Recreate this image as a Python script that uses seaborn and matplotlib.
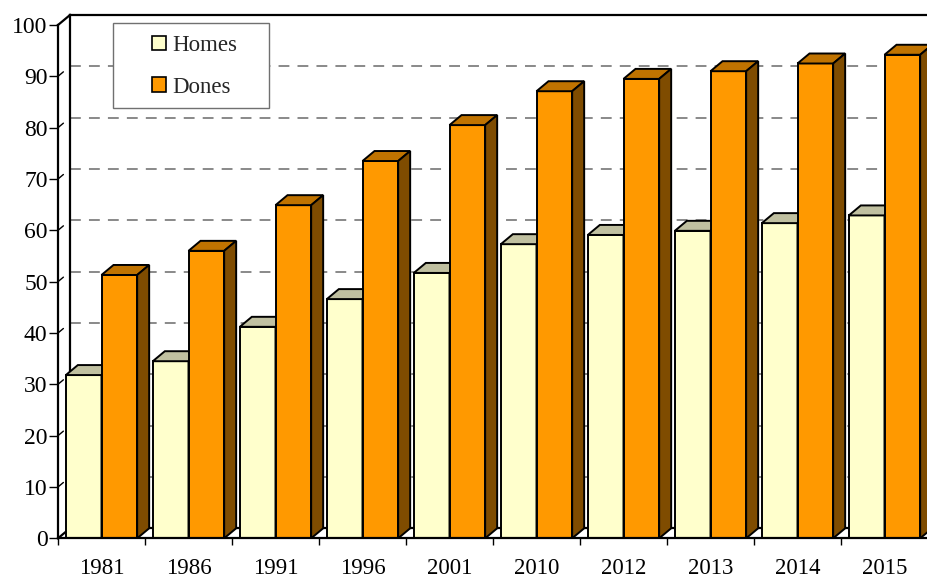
import pandas as pd
import matplotlib
matplotlib.use("Agg")
import matplotlib.pyplot as plt
import seaborn as sns
from matplotlib.patches import Patch, Polygon, Rectangle
from matplotlib.ticker import FixedLocator

# data
years = ['1981', '1986', '1991', '1996', '2001', '2010', '2012', '2013', '2014', '2015']
homes = [31.8, 34.5, 41.2, 46.6, 51.7, 57.3, 59.1, 59.9, 61.4, 62.9]
dones = [51.3, 56.0, 64.9, 73.5, 80.5, 87.1, 89.5, 91.0, 92.5, 94.2]
series = ['Homes', 'Dones']

df = pd.DataFrame({
    'Any': years * 2,
    'Sexe': ['Homes'] * len(years) + ['Dones'] * len(years),
    'Valor': homes + dones,
})

front = {'Homes': '#FFFFCC', 'Dones': '#FF9900'}
top = {'Homes': '#C0C0A0', 'Dones': '#C07300'}
side = {'Homes': '#808066', 'Dones': '#7F4C00'}

sns.set_theme(style="white")
plt.rcParams['font.family'] = ['Liberation Serif', 'DejaVu Serif']

W, H = 927, 577
fig = plt.figure(figsize=(W / 100, H / 100), dpi=100)
ax = fig.add_axes([58 / W, (H - 538.3) / H, 870 / W, 513.3 / H])

sns.barplot(data=df, x='Any', y='Valor', hue='Sexe', hue_order=series,
            palette=front, saturation=1, width=0.82, edgecolor='black',
            linewidth=1.4, legend=False, ax=ax, zorder=3)

ax.set_xlim(-0.5, len(years) - 0.5)
ax.set_ylim(0, 100)

# 3D depth offset (12 px right, 10 px up)
dx = 12 / 87
dy = 10 / 5.133

# bar tops and sides
for k, cont in enumerate(ax.containers):
    name = series[k]
    for bar in cont:
        bar.set_zorder(3 + k)
        x0, w, h = bar.get_x(), bar.get_width(), bar.get_height()
        ax.add_patch(Polygon([(x0, h), (x0 + w, h), (x0 + w + dx, h + dy), (x0 + dx, h + dy)],
                             closed=True, facecolor=top[name], edgecolor='black',
                             linewidth=1.4, zorder=3 + k, clip_on=False))
        ax.add_patch(Polygon([(x0 + w, 0), (x0 + w + dx, dy), (x0 + w + dx, h + dy), (x0 + w, h)],
                             closed=True, facecolor=side[name], edgecolor='black',
                             linewidth=1.4, zorder=3 + k, clip_on=False))

x_left = -0.5
x_right = len(years) - 0.5

# back wall grid
for v in range(10, 100, 10):
    ax.plot([x_left + dx, x_right + dx], [v + dy, v + dy], color='#808080',
            linewidth=1.3, linestyle=(0, (6, 4.5)), zorder=1, clip_on=False)
    ax.plot([x_left, x_left + dx * 0.45], [v, v + dy * 0.45], color='black',
            linewidth=1.0, zorder=2, clip_on=False)

# walls and floor outlines
line_kw = dict(color='black', linewidth=1.6, clip_on=False, solid_capstyle='projecting')
ax.plot([x_left + dx, x_right + dx], [100 + dy, 100 + dy], zorder=2, **line_kw)
ax.plot([x_left + dx, x_left + dx], [dy, 100 + dy], zorder=2, **line_kw)
ax.plot([x_left, x_left + dx], [100, 100 + dy], zorder=2, **line_kw)
ax.plot([x_left, x_left + dx], [0, dy], zorder=2, **line_kw)
ax.plot([x_left + dx, x_right + dx], [dy, dy], zorder=2, **line_kw)
ax.plot([x_left, x_left], [0, 100], zorder=6, **line_kw)
ax.plot([x_left, x_right + dx], [0, 0], zorder=6, **line_kw)

for s in ax.spines.values():
    s.set_visible(False)

ax.set_xlabel('')
ax.set_ylabel('')
ax.set_yticks(range(0, 101, 10))
ax.tick_params(axis='y', which='major', left=True, length=6.5, width=1.0,
               color='black', pad=1, labelsize=17, labelcolor='black')
ax.xaxis.set_minor_locator(FixedLocator([i - 0.5 for i in range(len(years) + 1)]))
ax.tick_params(axis='x', which='major', bottom=True, length=0, pad=14,
               labelsize=16.5, labelcolor='black')
ax.tick_params(axis='x', which='minor', bottom=True, length=5, width=1.0, color='black')
ax.grid(False)

# legend
fig.patches.append(Rectangle((113 / W, 1 - 108 / H), 156 / W, 85 / H,
                             transform=fig.transFigure, facecolor='white',
                             edgecolor='#707070', linewidth=1.0, zorder=10))
handles = [Patch(facecolor=front[n], edgecolor='black', linewidth=1.2) for n in series]
leg = fig.legend(handles, series, loc='upper left', bbox_to_anchor=(136 / W, 1 - 19 / H),
                 frameon=False, fontsize=16.5, handlelength=0.6, handleheight=0.6,
                 handletextpad=0.3, labelspacing=0.9, borderpad=0.2)
leg.set_zorder(11)

fig.savefig('out.png', dpi=100)
